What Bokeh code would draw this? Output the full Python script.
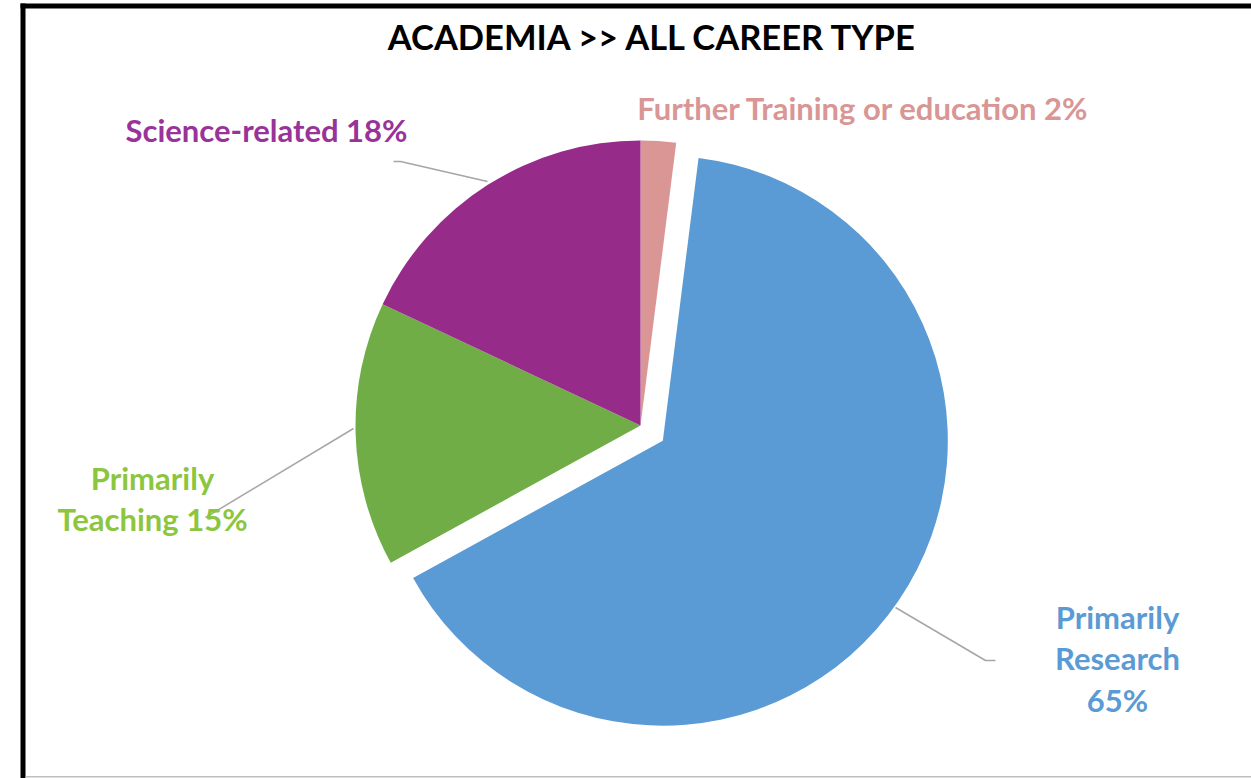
import math
from bokeh.plotting import figure
from bokeh.models import ColumnDataSource, Range1d, BoxAnnotation, Label
from bokeh.core.properties import value
from bokeh.embed import file_html
from bokeh.resources import INLINE

# ---- data ----
categories = ["Further Training or education", "Primarily Research", "Primarily Teaching", "Science-related"]
percents = [2, 65, 15, 18]
slice_colors = ["#d99694", "#5b9bd5", "#70ad47", "#962b8a"]
label_colors = ["#d99694", "#5b9bd5", "#8cc63f", "#993399"]
label_texts = ["Further Training or education 2%", "Primarily\nResearch\n65%", "Primarily\nTeaching 15%", "Science-related 18%"]
exploded = [False, True, False, False]

W, H = 1251, 778
p = figure(width=W, height=H, output_backend="svg", toolbar_location=None,
           x_range=Range1d(0, W), y_range=Range1d(0, H), min_border=0)
p.axis.visible = False
p.grid.visible = False
p.outline_line_color = None
p.background_fill_color = "white"

# pie geometry (layout)
cx, cy, R = 640, 353, 285
explode_dist = 27

total = sum(percents)
starts, ends, xs, ys = [], [], [], []
cum = 0.0
for v, ex in zip(percents, exploded):
    a_cw = cum / total * 2 * math.pi
    b_cw = (cum + v) / total * 2 * math.pi
    cum += v
    starts.append(math.pi / 2 - b_cw)
    ends.append(math.pi / 2 - a_cw)
    mid = (a_cw + b_cw) / 2
    d = explode_dist if ex else 0
    xs.append(cx + d * math.sin(mid))
    ys.append(cy + d * math.cos(mid))

src = ColumnDataSource(dict(x=xs, y=ys, start=starts, end=ends, color=slice_colors, name=categories))
p.wedge(x="x", y="y", radius=R, start_angle="start", end_angle="end",
        fill_color="color", line_color=None, source=src)

# leader lines (layout)
lc = "#a6a6a6"
p.line([393, 400, 487], [617, 617, 597], line_color=lc, line_width=1.5)
p.line([205, 353], [261, 350], line_color=lc, line_width=1.5)
p.line([895, 985, 995], [171, 118, 118], line_color=lc, line_width=1.5)

# labels
lab_x = [863, 1117, 152, 266]
lab_y = [671, 120, 280, 649]
lsrc = ColumnDataSource(dict(x=lab_x, y=lab_y, text=label_texts, color=label_colors))
p.text(x="x", y="y", text="text", text_color="color", source=lsrc,
       text_font=value("Lato"), text_font_style="bold", text_font_size="31px",
       text_align="center", text_baseline="middle", text_line_height=1.08)

# title
p.add_layout(Label(x=653, y=742, text="ACADEMIA >> ALL CAREER TYPE", text_font="Lato",
                   text_font_style="bold", text_font_size="34.5px", text_color="black",
                   text_align="center", text_baseline="middle"))

# frame
p.add_layout(BoxAnnotation(left=20, right=25, bottom=0, top=775, fill_color="black",
                           fill_alpha=1, line_color=None))
p.add_layout(BoxAnnotation(left=20, right=W, bottom=770, top=775, fill_color="black",
                           fill_alpha=1, line_color=None))
p.add_layout(BoxAnnotation(left=25, right=W, bottom=1, top=2.5, fill_color="#bfbfbf",
                           fill_alpha=1, line_color=None))

open("out.html", "w").write(file_html(p, INLINE))
